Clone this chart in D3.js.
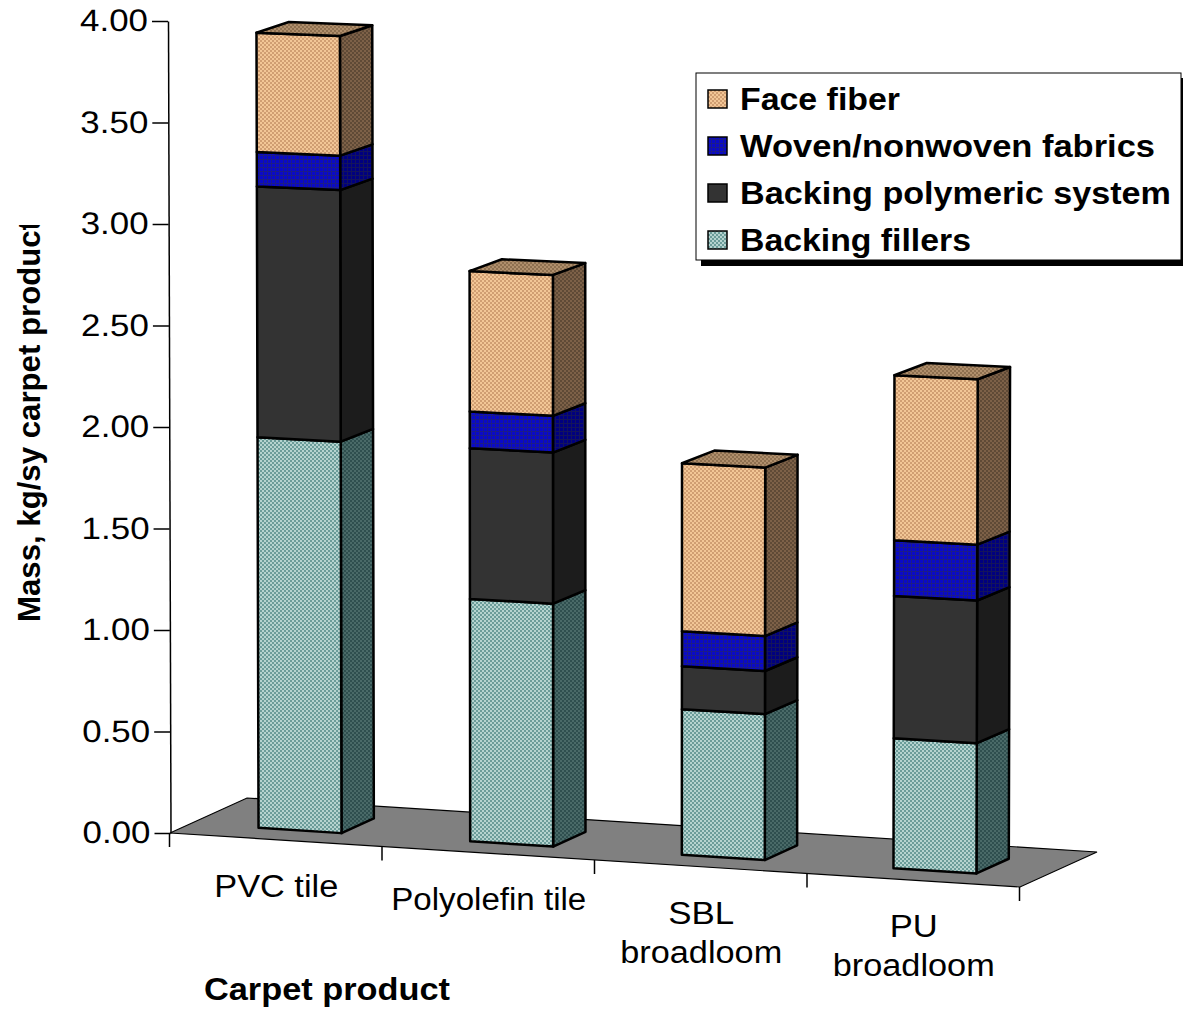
<!doctype html>
<html>
  <head>
    <meta charset="UTF-8">
    <title>Carpet product mass</title>
    <style>
      html, body { margin: 0; padding: 0; background: #fff; }
      text { font-family: "Liberation Sans", Arial, sans-serif; fill: #000; }
      .axis text { font-size: 31px; }
      .axis .domain, .axis line { stroke: #000; stroke-width: 1.5px; }
      .face { stroke: #000; stroke-width: 2.5px; stroke-linejoin: round; }
    </style>
  </head>
  <body>
    <svg id="chart" width="1183" height="1009"></svg>
    <script src="https://d3js.org/d3.v7.min.js"></script>
    <script>
      // Data
      const categories = ["PVC tile", "Polyolefin tile", "SBL broadloom", "PU broadloom"];
      const categoryLines = [["PVC tile"], ["Polyolefin tile"], ["SBL", "broadloom"], ["PU", "broadloom"]];
      const categoryLineWidths = [[124], [195], [66, 162], [48, 162]];
      const seriesNames = ["Backing fillers", "Backing polymeric system", "Woven/nonwoven fabrics", "Face fiber"];
      const backingFillers = [1.93, 1.19, 0.71, 0.63];
      const backingPolymer = [1.24, 0.74, 0.21, 0.69];
      const fabrics = [0.17, 0.18, 0.17, 0.27];
      const faceFiber = [0.59, 0.69, 0.82, 0.80];
      const seriesValues = [backingFillers, backingPolymer, fabrics, faceFiber];
      const yTicks = [0, 0.5, 1, 1.5, 2, 2.5, 3, 3.5, 4];
      const legendOrder = ["Face fiber", "Woven/nonwoven fabrics", "Backing polymeric system", "Backing fillers"];

      const svg = d3.select("#chart");
      const defs = svg.append("defs");

      // Stipple textures: [key, base, dot, kind]
      const textures = [
        ["fill0", "#6b9c99", "#b5d3cf", "dots"],
        ["side0", "#2f4f4f", "#4a6a68", "dots"],
        ["fill2", "#0a0ac8", "#1c1c88", "grid"],
        ["side2", "#000080", "#14145c", "grid"],
        ["fill3", "#f2c696", "#d09e72", "dots"],
        ["side3", "#7d6148", "#5f4a36", "dots"],
        ["top3", "#b08f6c", "#8e7050", "dots"]
      ];
      textures.forEach(([id, base, dot, kind]) => {
        const p = defs.append("pattern").attr("id", id).attr("patternUnits", "userSpaceOnUse")
          .attr("width", 4).attr("height", 4);
        p.append("rect").attr("width", 4).attr("height", 4).attr("fill", base);
        if (kind === "dots") {
          p.append("rect").attr("x", 0).attr("y", 0).attr("width", 2).attr("height", 2).attr("fill", dot);
          p.append("rect").attr("x", 2).attr("y", 2).attr("width", 2).attr("height", 2).attr("fill", dot);
        } else {
          p.append("rect").attr("x", 3).attr("width", 1).attr("height", 4).attr("fill", dot);
          p.append("rect").attr("y", 3).attr("width", 4).attr("height", 1).attr("fill", dot);
        }
      });

      const frontFill = ["url(#fill0)", "#333333", "url(#fill2)", "url(#fill3)"];
      const sideFill = ["url(#side0)", "#1c1c1c", "url(#side2)", "url(#side3)"];

      // Position along the floor (0..1) and value scales
      const band = d3.scaleBand().domain(categories).range([0.004, 1]).paddingInner(0.608).paddingOuter(0.304);
      const floorX = d3.scaleLinear().domain([0, 1]).range([170, 1020]);
      const floorY = d3.scaleLinear().domain([0, 1]).range([833, 887]);
      const y = d3.scaleLinear().domain([0, 4]).range([833, 21]);
      const depthFront = 0.27, depthBack = 0.69;

      // Oblique projection with a touch of perspective, as in the old 3-D chart
      function project(a, d, v) {
        const grow = 1 + 0.026 * a - 0.00216 - 0.012 * d;
        return [
          floorX(a) + 77 * d + (v / 4) * (a * 5 - 2.5),
          floorY(a) - 35 * d - (833 - y(v)) * grow
        ];
      }
      const poly = pts => "M" + pts.map(p => p.join(",")).join("L") + "Z";

      // Floor
      svg.append("path")
        .attr("d", poly([project(0, 0, 0), project(1, 0, 0), project(1, 1, 0), project(0, 1, 0)]))
        .attr("fill", "#808080").attr("stroke", "#000").attr("stroke-width", 1.2);

      // Value axis, leaning very slightly like the reference
      const lean = 2.5 / 812;
      svg.append("g").attr("class", "axis")
        .attr("transform", `matrix(1,0,${lean},1,${170.5 - 833 * lean},0)`)
        .call(d3.axisLeft(y).tickValues(yTicks).tickFormat(d3.format(".2f")).tickSize(16).tickPadding(4).tickSizeOuter(0))
        .call(g => g.selectAll("text").attr("textLength", 68).attr("lengthAdjust", "spacingAndGlyphs"));

      // Category axis ticks follow the front edge of the floor
      const slope = 54 / 850;
      svg.append("g").attr("class", "axis")
        .attr("transform", `matrix(1,${slope},0,1,-1,${833 - 170 * slope})`)
        .call(d3.axisBottom(floorX.copy().domain([0, 4])).ticks(4).tickFormat("").tickSize(14).tickSizeOuter(0))
        .call(g => g.select(".domain").remove());

      // Stacked bars
      categories.forEach((cat, i) => {
        const a0 = band(cat), a1 = a0 + band.bandwidth();
        const g = svg.append("g");
        let base = 0;
        seriesValues.forEach((vals, s) => {
          const top = base + vals[i];
          g.append("path").attr("class", "face").attr("fill", sideFill[s])
            .attr("d", poly([project(a1, depthFront, base), project(a1, depthBack, base), project(a1, depthBack, top), project(a1, depthFront, top)]));
          g.append("path").attr("class", "face").attr("fill", frontFill[s])
            .attr("d", poly([project(a0, depthFront, base), project(a1, depthFront, base), project(a1, depthFront, top), project(a0, depthFront, top)]));
          if (s === seriesValues.length - 1) {
            g.append("path").attr("class", "face").attr("fill", "url(#top3)")
              .attr("d", poly([project(a0, depthFront, top), project(a1, depthFront, top), project(a1, depthBack, top), project(a0, depthBack, top)]));
          }
          base = top;
        });

        // Category label
        const mid = (i + 0.5) / categories.length;
        categoryLines[i].forEach((line, k) => {
          svg.append("text").attr("x", floorX(mid)).attr("y", floorY(mid) + 57 + k * 39)
            .attr("text-anchor", "middle").attr("font-size", 31)
            .attr("textLength", categoryLineWidths[i][k])
            .attr("lengthAdjust", "spacingAndGlyphs")
            .text(line);
        });
      });

      // Axis titles
      svg.append("text").attr("x", 204).attr("y", 1000).attr("font-size", 31).attr("font-weight", "bold")
        .attr("textLength", 246).attr("lengthAdjust", "spacingAndGlyphs").text("Carpet product");

      defs.append("clipPath").attr("id", "titleClip").append("rect")
        .attr("x", 0).attr("y", 225).attr("width", 60).attr("height", 400);
      svg.append("g").attr("clip-path", "url(#titleClip)")
        .append("text").attr("transform", "translate(40,622) rotate(-90)")
        .attr("font-size", 31).attr("font-weight", "bold")
        .attr("textLength", 402).attr("lengthAdjust", "spacingAndGlyphs")
        .text("Mass, kg/sy carpet product");

      // Legend
      const legend = svg.append("g");
      legend.append("rect").attr("x", 701).attr("y", 78).attr("width", 484).attr("height", 188).attr("fill", "#000");
      legend.append("rect").attr("x", 696).attr("y", 73).attr("width", 485).attr("height", 187)
        .attr("fill", "#fff").attr("stroke", "#000").attr("stroke-width", 1);
      const legendY = d3.scalePoint().domain(legendOrder).range([99, 240]);
      const legendWidths = [160, 415, 431, 231];
      legendOrder.forEach((name, k) => {
        const s = seriesNames.indexOf(name);
        legend.append("rect").attr("x", 708).attr("y", legendY(name) - 9).attr("width", 19).attr("height", 18)
          .attr("fill", frontFill[s]).attr("stroke", "#000").attr("stroke-width", 1.5);
        legend.append("text").attr("x", 740).attr("y", legendY(name) + 11)
          .attr("font-size", 31).attr("font-weight", "bold")
          .attr("textLength", legendWidths[k]).attr("lengthAdjust", "spacingAndGlyphs").text(name);
      });
    </script>
  </body>
</html>
